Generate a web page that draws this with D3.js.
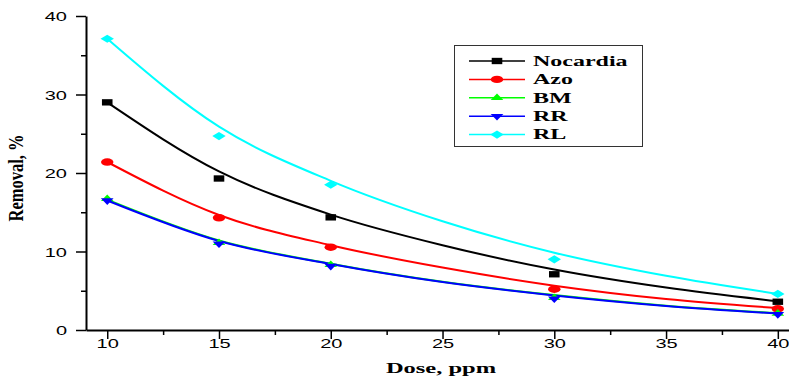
<!DOCTYPE html>
<html>
<head>
<meta charset="utf-8">
<script src="https://cdn.jsdelivr.net/npm/d3@7"></script>
<style>
  body { margin: 0; background: #fff; }
  svg { display: block; }
</style>
</head>
<body>
<div id="chart"></div>
<script>
// measured points
const doses = [10, 15, 20, 30, 40];
const nocardia = [29.0, 19.3, 14.35, 7.1, 3.6];
const azo = [21.4, 14.3, 10.55, 5.2, 2.7];
const bm = [16.7, 11.1, 8.3, 4.1, 2.1];
const rr = [16.5, 11.0, 8.15, 4.0, 2.0];
const rl = [37.1, 24.7, 18.5, 9.0, 4.6];

// fitted curves
const fitDoses = [10, 15, 20, 25, 30, 35, 40];
const nocardiaFit = [29.0, 20.2, 14.7, 10.8, 7.7, 5.4, 3.65];
const azoFit = [21.4, 14.65, 10.8, 7.95, 5.65, 3.95, 2.8];
const bmFit = [16.6, 11.4, 8.45, 6.15, 4.45, 3.1, 2.15];
const rrFit = [16.5, 11.34, 8.4, 6.1, 4.4, 3.06, 2.1];
const rlFit = [37.1, 25.9, 19.0, 13.85, 9.85, 6.9, 4.6];

const names = ["Nocardia", "Azo", "BM", "RR", "RL"];
const colors = ["#000000", "#ff0000", "#00ff00", "#0000ff", "#00ffff"];
const shapes = ["square", "circle", "triUp", "triDown", "diamond"];

const xTicks = [10, 15, 20, 25, 30, 35, 40];
const xMinor = [12.5, 17.5, 22.5, 27.5, 32.5, 37.5];
const yTicks = [0, 10, 20, 30, 40];
const yMinor = [5, 15, 25, 35];

const series = names.map((n, i) => ({
    name: n,
    color: colors[i],
    shape: shapes[i],
    points: doses.map((d, j) => [d, [nocardia, azo, bm, rr, rl][i][j]]),
    fit: fitDoses.map((d, j) => [d, [nocardiaFit, azoFit, bmFit, rrFit, rlFit][i][j]])
}));

const W = 789, H = 377;
const k = 0.6; // picture is squashed vertically
const serif = "'Liberation Serif', 'Times New Roman', serif";
const sans = "'Liberation Sans', Arial, sans-serif";

const svg = d3.select("#chart").append("svg")
    .attr("width", W)
    .attr("height", H);

svg.append("rect").attr("width", W).attr("height", H).attr("fill", "#fff");

const x = d3.scaleLinear().domain([9.05, 40.5]).range([86, 789]);
const y = d3.scaleLinear().domain([0, 40]).range([330, 16]);

// axes
function styleAxis(g) {
    g.selectAll("path.domain").attr("stroke", "#000").attr("stroke-width", 2);
    g.selectAll(".tick line").attr("stroke", "#000").attr("stroke-width", 1.5);
}

const gx = svg.append("g").attr("transform", `translate(0,${y(0)})`)
    .call(d3.axisBottom(x).tickValues(xTicks).tickSize(9).tickSizeOuter(0));
gx.selectAll(".tick text")
    .attr("y", null).attr("dy", null)
    .attr("transform", `translate(0,17.5) scale(1,${k})`)
    .attr("font-family", sans).attr("font-size", 20).attr("fill", "#000");
styleAxis(gx);

const gxm = svg.append("g").attr("transform", `translate(0,${y(0)})`)
    .call(d3.axisBottom(x).tickValues(xMinor).tickSize(5).tickSizeOuter(0).tickFormat(""));
gxm.select("path.domain").remove();
styleAxis(gxm);

const gy = svg.append("g").attr("transform", `translate(${x(9.05)},0)`)
    .call(d3.axisLeft(y).tickValues(yTicks).tickSize(10).tickSizeOuter(0));
gy.selectAll(".tick text")
    .attr("x", null).attr("dy", null)
    .attr("transform", `translate(-19,4.5) scale(1,${k})`)
    .attr("font-family", sans).attr("font-size", 20).attr("fill", "#000");
styleAxis(gy);

const gym = svg.append("g").attr("transform", `translate(${x(9.05)},0)`)
    .call(d3.axisLeft(y).tickValues(yMinor).tickSize(5).tickSizeOuter(0).tickFormat(""));
gym.select("path.domain").remove();
styleAxis(gym);

// axis titles
svg.append("text")
    .attr("transform", `translate(441,373) scale(1,${k})`)
    .attr("text-anchor", "middle")
    .attr("font-family", serif).attr("font-weight", "bold").attr("font-size", 24.5)
    .text("Dose, ppm");

svg.append("text")
    .attr("transform", `translate(23,178) rotate(-90) scale(0.785,1)`)
    .attr("text-anchor", "middle")
    .attr("font-family", serif).attr("font-weight", "bold").attr("font-size", 21)
    .text("Removal, %");

// markers
function marker(sel, shape, color) {
    const sym = d3.symbol();
    let rot = 0;
    if (shape === "square") sym.type(d3.symbolSquare).size(112);
    if (shape === "circle") sym.type(d3.symbolCircle).size(121);
    if (shape === "triUp") sym.type(d3.symbolTriangle).size(70);
    if (shape === "triDown") { sym.type(d3.symbolTriangle).size(70); rot = 180; }
    if (shape === "diamond") { sym.type(d3.symbolSquare).size(90); rot = 45; }
    sel.append("path")
        .attr("d", sym())
        .attr("fill", color)
        .attr("transform", `scale(1,${k}) rotate(${rot})`);
}

const line = d3.line()
    .x(d => x(d[0]))
    .y(d => y(d[1]))
    .curve(d3.curveMonotoneX);

series.forEach(s => {
    svg.append("path")
        .attr("d", line(s.fit))
        .attr("fill", "none")
        .attr("stroke", s.color)
        .attr("stroke-width", 2);
});

series.forEach(s => {
    svg.append("g").selectAll("g")
        .data(s.points)
        .enter().append("g")
        .attr("transform", d => `translate(${x(d[0])},${y(d[1])})`)
        .each(function () { marker(d3.select(this), s.shape, s.color); });
});

// legend
const legend = svg.append("g");
legend.append("rect")
    .attr("x", 454.5).attr("y", 45.5)
    .attr("width", 188).attr("height", 101)
    .attr("fill", "#fff").attr("stroke", "#333").attr("stroke-width", 1);

series.forEach((s, i) => {
    const ry = 61 + i * 18.4;
    legend.append("line")
        .attr("x1", 469).attr("x2", 525)
        .attr("y1", ry).attr("y2", ry)
        .attr("stroke", s.color).attr("stroke-width", 1.5);
    const mg = legend.append("g").attr("transform", `translate(497,${ry})`);
    marker(mg, s.shape, s.color);
    legend.append("text")
        .attr("transform", `translate(533,${ry + 4.8}) scale(1,${k})`)
        .attr("font-family", serif).attr("font-weight", "bold").attr("font-size", 24)
        .text(s.name);
});
</script>
</body>
</html>
